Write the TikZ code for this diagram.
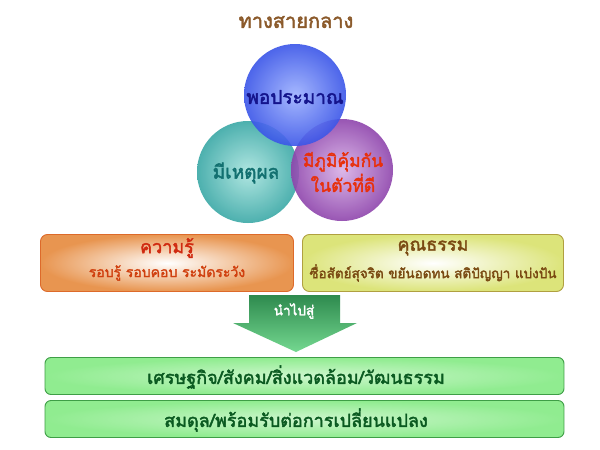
\documentclass[tikz,border=0pt]{standalone}
\usepackage{fontspec}
\newfontfamily\thai[Script=Thai, AutoFakeBold=2.2]{Loma}
\usetikzlibrary{shadings}
\definecolor{titlebrown}{HTML}{8B5A2B}
\definecolor{navy}{HTML}{14148C}
\definecolor{tealtxt}{HTML}{127070}
\definecolor{redtxt}{HTML}{E8300C}
\definecolor{orangeborder}{HTML}{DD6A2A}
\definecolor{orangefill}{HTML}{E89550}
\definecolor{orangetxt}{HTML}{D0400F}
\definecolor{redtitle}{HTML}{D02A10}
\definecolor{yellowborder}{HTML}{B0A040}
\definecolor{yellowfill}{HTML}{DCE47A}
\definecolor{browntxt}{HTML}{7A4A12}
\definecolor{greenborder}{HTML}{3E9E46}
\definecolor{greenfill}{HTML}{90EC90}
\definecolor{greentxt}{HTML}{0A5A20}
\definecolor{arrowtop}{HTML}{2E8A4E}
\definecolor{arrowbot}{HTML}{74D890}
\definecolor{tealin}{HTML}{A8E4DE}
\definecolor{tealout}{HTML}{3AA8A6}
\definecolor{purpin}{HTML}{D8B0E6}
\definecolor{purpout}{HTML}{8E44AC}
\definecolor{bluein}{HTML}{9CB0FF}
\definecolor{blueout}{HTML}{3A55E8}
\tikzset{
  ball/.style={circle, minimum size=102pt, inner sep=0pt, fill opacity=0.9},
  lbl/.style={font=\thai\bfseries, align=center, inner sep=0pt},
  card/.style={rounded corners=7pt, line width=0.9pt, minimum width=253pt, minimum height=57pt, inner sep=0pt},
  bar/.style={rounded corners=6pt, line width=0.9pt, draw=greenborder, inner color=white!55!greenfill, outer color=greenfill, minimum width=519pt, minimum height=37pt, inner sep=0pt}
}
\begin{document}
\begin{tikzpicture}[x=1pt,y=-1pt]
\useasboundingbox (0,0) rectangle (600,450);
\fill[white] (0,0) rectangle (600,450);
% title
\node[lbl, text=titlebrown, font=\thai\bfseries\fontsize{20}{22}\selectfont] (title) at (296,22) {ทางสายกลาง};
% circles
\node[ball, inner color=tealin, outer color=tealout] (teal) at (248,172) {};
\node[ball, inner color=purpin, outer color=purpout] (purp) at (342,170) {};
\node[ball, inner color=bluein, outer color=blueout] (blue) at (295,95) {};
\node[lbl, text=navy, font=\thai\bfseries\fontsize{19}{21}\selectfont] (t1) at (295,97) {พอประมาณ};
\node[lbl, text=tealtxt, font=\thai\bfseries\fontsize{19}{21}\selectfont] (t2) at (246,173) {มีเหตุผล};
\node[lbl, text=redtxt, font=\thai\bfseries\fontsize{17.5}{25}\selectfont] (t3) at (343,172) {มีภูมิคุ้มกัน\\ในตัวที่ดี};
% cards
\node[card, draw=orangeborder, inner color=white, outer color=orangefill] (know) at (167,263) {};
\node[lbl, text=redtitle, font=\thai\bfseries\fontsize{18}{20}\selectfont] (knowt) at (167,248) {ความรู้};
\node[lbl, text=orangetxt, font=\thai\bfseries\fontsize{14}{16}\selectfont] (knows) at (167,273) {รอบรู้ รอบคอบ ระมัดระวัง};
\node[card, draw=yellowborder, inner color=white, outer color=yellowfill, minimum width=261pt] (moral) at (433,263) {};
\node[lbl, text=browntxt, font=\thai\bfseries\fontsize{18}{20}\selectfont] (moralt) at (433,248) {คุณธรรม};
\node[lbl, text=browntxt, font=\thai\bfseries\fontsize{13.5}{16}\selectfont] (morals) at (433,273) {ซื่อสัตย์สุจริต ขยันอดทน สติปัญญา แบ่งปัน};
% arrow
\shade[top color=arrowtop, bottom color=arrowbot]
  (249,295) -- (340,295) -- (340,323) -- (357,323) -- (296,352) -- (233,323) -- (249,323) -- cycle;
\node[lbl, text=white, font=\thai\bfseries\fontsize{13.5}{15}\selectfont] (lead) at (294,311) {นำไปสู่};
% bars
\node[bar] (bar1) at (304.5,376) {};
\node[lbl, text=greentxt, font=\thai\bfseries\fontsize{18}{20}\selectfont] (bar1t) at (296,377) {เศรษฐกิจ/สังคม/สิ่งแวดล้อม/วัฒนธรรม};
\node[bar] (bar2) at (304.5,419) {};
\node[lbl, text=greentxt, font=\thai\bfseries\fontsize{18}{20}\selectfont] (bar2t) at (296,420) {สมดุล/พร้อมรับต่อการเปลี่ยนแปลง};
\end{tikzpicture}
\end{document}
